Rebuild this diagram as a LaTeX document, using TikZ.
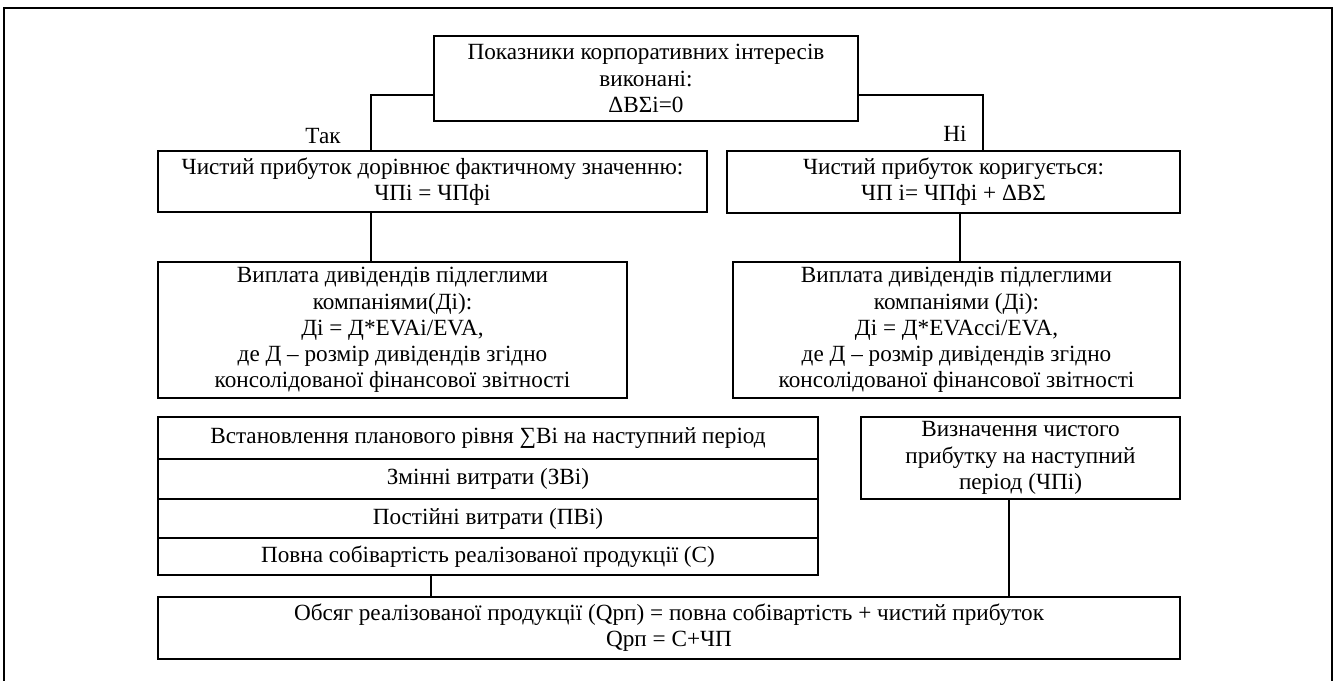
\documentclass[tikz,border=0pt]{standalone}
\usepackage{fontspec}
\setmainfont{Liberation Serif}
\begin{document}
\begin{tikzpicture}[x=0.75pt,y=-0.75pt,
  bx/.style n args={2}{draw,line width=1.5pt,minimum width=#1*0.75pt,minimum height=#2*0.75pt,inner sep=0pt,align=center,anchor=north west},
  conn/.style={line width=1.1pt},
  lbl/.style={inner sep=0pt},
  font=\fontsize{17.4}{19.6}\selectfont]
\useasboundingbox (0,0) rectangle (1334,681);
\draw[line width=2pt] (4,8) rectangle (1332,700);
% boxes
\node[bx={424}{85}] (top) at (433,35) {Показники корпоративних інтересів\\виконані:\\ΔBΣi=0};
\node[bx={549}{61}] (l2) at (157,150) {Чистий прибуток дорівнює фактичному значенню:\\ЧПі = ЧПфі};
\node[bx={453}{62}] (r2) at (726,150) {Чистий прибуток коригується:\\ЧП і= ЧПфі + ΔВΣ};
\node[bx={469}{136}] (l3) at (157,261) {Виплата дивідендів підлеглими\\компаніями(Ді):\\Ді = Д*EVAi/EVA,\\де Д – розмір дивідендів згідно\\консолідованої фінансової звітності};
\node[bx={447}{136}] (r3) at (732,261) {Виплата дивідендів підлеглими\\компаніями (Ді):\\Ді = Д*EVAcci/EVA,\\де Д – розмір дивідендів згідно\\консолідованої фінансової звітності};
\node[bx={660}{42}] (s1) at (157,416) {Встановлення планового рівня ∑Ві на наступний період};
\node[bx={660}{40}] (s2) at (157,458) {Змінні витрати (ЗВі)};
\node[bx={660}{39}] (s3) at (157,498) {Постійні витрати (ПВі)};
\node[bx={660}{37}] (s4) at (157,537) {Повна собівартість реалізованої продукції (С)};
\node[bx={319}{82}] (np) at (860,416) {Визначення чистого\\прибутку на наступний\\період (ЧПі)};
\node[bx={1022}{62}] (bot) at (157,596) {Обсяг реалізованої продукції (Qрп) = повна собівартість + чистий прибуток\\Qрп = С+ЧП};
% connectors
\coordinate (tl) at (371,95);
\coordinate (tr) at (983,95);
\draw[conn] (top.west |- tl) -- (tl) -- (tl |- l2.north);
\draw[conn] (top.east |- tr) -- (tr) -- (tr |- r2.north);
\node[lbl] (tak) at (323,136) {Так};
\node[lbl] (ni) at (955,134) {Ні};
\draw[conn] (371,0 |- l2.south) -- (371,0 |- l3.north);
\draw[conn] (960,0 |- r2.south) -- (960,0 |- r3.north);
\draw[conn] (431,0 |- s4.south) -- (431,0 |- bot.north);
\draw[conn] (1009,0 |- np.south) -- (1009,0 |- bot.north);
\end{tikzpicture}
\end{document}
